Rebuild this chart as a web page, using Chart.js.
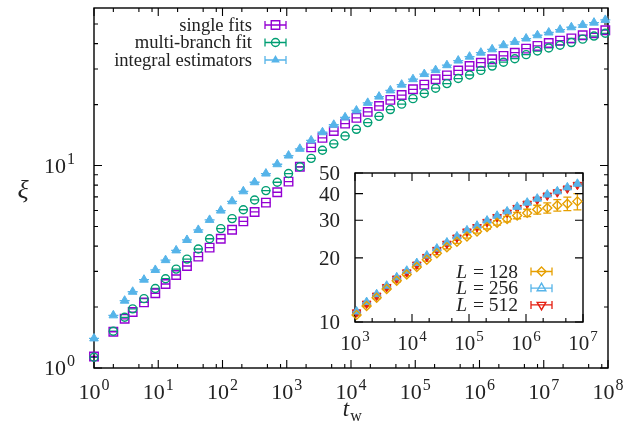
<!DOCTYPE html>
<html>
<head>
<meta charset="utf-8">
<script src="https://cdn.jsdelivr.net/npm/chart.js@4.4.1/dist/chart.umd.min.js"></script>
<style>
  body { margin: 0; background: #fff; }
  #wrap { position: relative; width: 626px; height: 426px; background: #fff; }
  #mainChart { position: absolute; left: 0; top: 0; }
  #insetChart { position: absolute; left: 300px; top: 160px; }
</style>
</head>
<body>
<div id="wrap">
  <canvas id="mainChart" width="626" height="426"></canvas>
  <canvas id="insetChart" width="300" height="200"></canvas>
</div>
<script>
// dados do gráfico principal
const tw = [1, 2, 3, 4, 6, 9, 13, 19, 28, 42, 63, 94, 141, 211, 316, 474, 711, 1066, 1599, 2398,
  3597, 5395, 8092, 12138, 18207, 27310, 40965, 61447, 92170, 138255, 207382, 311073, 466609,
  699913, 1049869, 1574803, 2362204, 3543306, 5314959, 7972438, 11958657, 17937985, 26906977,
  40360465, 60540697, 90811045];
const singleFits = [1.14, 1.51, 1.75, 1.89, 2.11, 2.34, 2.60, 2.88, 3.19, 3.55,
  3.93, 4.35, 4.82, 5.30, 5.90, 6.56, 7.38, 8.33, 9.86, 12.3,
  13.7, 14.8, 16.1, 17.2, 18.4, 19.7, 21.1, 22.3, 23.8, 25.1,
  26.7, 27.9, 29.5, 31.0, 32.2, 33.5, 34.8, 36.1, 37.8, 39.0,
  40.3, 41.4, 42.5, 44.0, 45.0, 46.6];
const multiBranch = [1.13, 1.52, 1.78, 1.96, 2.20, 2.47, 2.76, 3.08, 3.45, 3.87,
  4.35, 4.88, 5.47, 6.05, 6.76, 7.52, 8.27, 9.13, 9.86, 10.85,
  11.9, 12.8, 14.0, 15.1, 16.3, 17.5, 18.9, 20.1, 21.4, 22.7,
  24.1, 25.4, 26.9, 28.0, 29.5, 31.0, 32.4, 33.7, 35.3, 36.8,
  38.1, 39.3, 40.5, 42.1, 43.6, 45.0];
const integralEst = [1.40, 1.82, 2.15, 2.38, 2.73, 3.05, 3.41, 3.81, 4.29, 4.81,
  5.39, 5.99, 6.66, 7.46, 8.27, 9.13, 10.15, 11.2, 12.1, 13.3,
  14.6, 15.9, 17.3, 18.7, 20.4, 21.9, 23.5, 25.1, 26.7, 28.3,
  29.6, 31.3, 33.0, 34.5, 36.1, 37.5, 39.3, 40.8, 42.4, 44.0,
  45.4, 46.9, 48.2, 49.5, 50.8, 52.4];

// dados do inset
const insetTw = [1066, 1599, 2398, 3597, 5395, 8092, 12138, 18207, 27310, 40965, 61447, 92170,
  138255, 207382, 311073, 466609, 699913, 1049869, 1574803, 2362204, 3543306, 5314959, 7972438];
const xiL128 = [10.8, 11.9, 13.0, 14.3, 15.6, 16.7, 18.1, 19.6, 21.0, 22.4, 23.8, 25.2,
  26.6, 27.9, 29.2, 30.4, 31.6, 32.5, 33.7, 34.3, 35.3, 35.9, 36.8];
const errL128 = [0.1, 0.1, 0.15, 0.15, 0.2, 0.2, 0.25, 0.3, 0.3, 0.35, 0.4, 0.45,
  0.5, 0.6, 0.7, 0.9, 1.1, 1.3, 1.6, 1.9, 2.2, 2.6, 3.2];
const xiL256 = [11.2, 12.4, 13.5, 14.8, 16.2, 17.4, 18.9, 20.5, 22.1, 23.6, 25.2, 26.9,
  28.3, 29.9, 31.5, 33.0, 34.7, 36.3, 37.9, 39.6, 41.0, 42.8, 44.5];
const xiL512 = [11.1, 12.2, 13.3, 14.6, 16.0, 17.1, 18.6, 20.2, 21.8, 23.3, 24.9, 26.6,
  27.9, 29.5, 31.1, 32.6, 34.3, 35.9, 37.5, 39.2, 40.6, 42.3, 44.0];

// ticks
const mainXExp = [0, 1, 2, 3, 4, 5, 6, 7, 8];
const mainYExp = [0, 1];
const insetXExp = [3, 4, 5, 6, 7];
const insetYTicks = [10, 20, 30, 40, 50];

const FONT = '"Liberation Serif", "DejaVu Serif", serif';
const C_PURPLE = '#9400D3', C_GREEN = '#009E73', C_BLUE = '#56B4E9';
const C_ORANGE = '#E69F00', C_RED = '#E51E10';

const pts = (xs, ys) => xs.map((x, i) => ({ x: x, y: ys[i] }));

// desenha "10^k"
const drawPow = (ctx, exp, x, y, align, size) => {
  ctx.save();
  ctx.fillStyle = '#222';
  ctx.textBaseline = 'alphabetic';
  ctx.font = size + 'px ' + FONT;
  const wb = ctx.measureText('10').width;
  const sup = Math.round(size * 0.72);
  ctx.font = sup + 'px ' + FONT;
  const we = ctx.measureText(String(exp)).width;
  const total = wb + we + 1;
  let left = x;
  if (align === 'center') left = x - total / 2;
  if (align === 'right') left = x - total;
  const base = y + size * 0.34;
  ctx.font = size + 'px ' + FONT;
  ctx.textAlign = 'left';
  ctx.fillText('10', left, base);
  ctx.font = sup + 'px ' + FONT;
  ctx.fillText(String(exp), left + wb + 1, base - size * 0.42);
  ctx.restore();
};

// marcador para a legenda
const drawMarker = (ctx, style, x, y, r, color, filled) => {
  ctx.save();
  ctx.strokeStyle = color;
  ctx.fillStyle = color;
  ctx.lineWidth = 1.4;
  ctx.beginPath();
  if (style === 'rect') {
    const s = r * Math.SQRT1_2;
    ctx.rect(x - s, y - s, 2 * s, 2 * s);
  } else if (style === 'circle') {
    ctx.arc(x, y, r, 0, Math.PI * 2);
  } else if (style === 'rectRot') {
    ctx.moveTo(x, y - r); ctx.lineTo(x + r, y); ctx.lineTo(x, y + r); ctx.lineTo(x - r, y); ctx.closePath();
  } else if (style === 'triangle' || style === 'triangleDown') {
    const d = style === 'triangle' ? 1 : -1;
    const w = r * Math.sin(Math.PI / 3);
    ctx.moveTo(x, y - d * r); ctx.lineTo(x + w, y + d * r / 2); ctx.lineTo(x - w, y + d * r / 2); ctx.closePath();
  }
  if (filled) ctx.fill(); else ctx.stroke();
  ctx.restore();
};

// barras de erro (y) com caps horizontais
const errorBarPlugin = {
  id: 'errorBars',
  beforeDatasetsDraw(chart) {
    const ctx = chart.ctx;
    const xs = chart.scales.x, ys = chart.scales.y;
    chart.data.datasets.forEach(ds => {
      if (!ds.errCap) return;
      ctx.save();
      ctx.strokeStyle = ds.borderColor;
      ctx.lineWidth = 1.3;
      ds.data.forEach((p, i) => {
        const e = ds.errors ? ds.errors[i] : 0;
        const px = xs.getPixelForValue(p.x);
        const y1 = ys.getPixelForValue(p.y - e);
        const y2 = ys.getPixelForValue(p.y + e);
        ctx.beginPath();
        ctx.moveTo(px, y1); ctx.lineTo(px, y2);
        ctx.moveTo(px - ds.errCap, y1); ctx.lineTo(px + ds.errCap, y1);
        ctx.moveTo(px - ds.errCap, y2); ctx.lineTo(px + ds.errCap, y2);
        ctx.stroke();
      });
      ctx.restore();
    });
  }
};

// moldura, ticks para dentro, rótulos e legenda
const framePlugin = {
  id: 'frame',
  beforeDatasetsDraw(chart, args, opts) {
    const ctx = chart.ctx;
    const a = chart.chartArea;
    const xs = chart.scales.x, ys = chart.scales.y;
    ctx.save();
    ctx.strokeStyle = '#000';
    ctx.lineWidth = 1.4;
    ctx.strokeRect(a.left, a.top, a.right - a.left, a.bottom - a.top);
    ctx.lineWidth = 1.1;
    ctx.beginPath();
    opts.xMajor.forEach(v => {
      const px = xs.getPixelForValue(v);
      ctx.moveTo(px, a.bottom); ctx.lineTo(px, a.bottom - opts.major);
      ctx.moveTo(px, a.top); ctx.lineTo(px, a.top + opts.major);
    });
    opts.xMinor.forEach(v => {
      const px = xs.getPixelForValue(v);
      ctx.moveTo(px, a.bottom); ctx.lineTo(px, a.bottom - opts.minor);
      ctx.moveTo(px, a.top); ctx.lineTo(px, a.top + opts.minor);
    });
    opts.yMajor.forEach(v => {
      const py = ys.getPixelForValue(v);
      ctx.moveTo(a.left, py); ctx.lineTo(a.left + opts.major, py);
      ctx.moveTo(a.right, py); ctx.lineTo(a.right - opts.major, py);
    });
    opts.yMinor.forEach(v => {
      const py = ys.getPixelForValue(v);
      ctx.moveTo(a.left, py); ctx.lineTo(a.left + opts.minor, py);
      ctx.moveTo(a.right, py); ctx.lineTo(a.right - opts.minor, py);
    });
    ctx.stroke();
    ctx.restore();
  },
  afterDraw(chart, args, opts) {
    const ctx = chart.ctx;
    const a = chart.chartArea;
    const xs = chart.scales.x, ys = chart.scales.y;
    opts.xExp.forEach(k => drawPow(ctx, k, xs.getPixelForValue(Math.pow(10, k)), a.bottom + opts.xLabelGap, 'center', opts.tickSize));
    if (opts.yExp) {
      opts.yExp.forEach(k => drawPow(ctx, k, a.left - opts.yLabelGap, ys.getPixelForValue(Math.pow(10, k)), 'right', opts.tickSize));
    }
    if (opts.yPlain) {
      ctx.save();
      ctx.fillStyle = '#222';
      ctx.font = opts.tickSize + 'px ' + FONT;
      ctx.textAlign = 'right';
      ctx.textBaseline = 'alphabetic';
      opts.yPlain.forEach(v => ctx.fillText(String(v), a.left - opts.yLabelGap, ys.getPixelForValue(v) + opts.tickSize * 0.34));
      ctx.restore();
    }
    // legenda
    ctx.save();
    opts.legend.forEach((item, i) => {
      const y = opts.legendY + i * opts.legendStep;
      ctx.fillStyle = '#222';
      ctx.textBaseline = 'alphabetic';
      ctx.textAlign = 'right';
      if (item.italic) {
        ctx.font = opts.legendSize + 'px ' + FONT;
        const rest = item.label;
        const wr = ctx.measureText(rest).width;
        ctx.fillText(rest, opts.legendX, y + opts.legendSize * 0.32);
        ctx.font = 'italic ' + opts.legendSize + 'px ' + FONT;
        ctx.fillText(item.italic, opts.legendX - wr - 1, y + opts.legendSize * 0.32);
      } else {
        ctx.font = opts.legendSize + 'px ' + FONT;
        ctx.fillText(item.label, opts.legendX, y + opts.legendSize * 0.32);
      }
      const x1 = opts.legendX + 13, x2 = x1 + opts.sampleW;
      ctx.strokeStyle = item.color;
      ctx.lineWidth = 1.3;
      ctx.beginPath();
      ctx.moveTo(x1, y); ctx.lineTo(x2, y);
      ctx.moveTo(x1, y - 4); ctx.lineTo(x1, y + 4);
      ctx.moveTo(x2, y - 4); ctx.lineTo(x2, y + 4);
      ctx.stroke();
      drawMarker(ctx, item.style, (x1 + x2) / 2, y, item.r, item.color, item.filled);
    });
    ctx.restore();
    if (opts.titles) {
      ctx.save();
      ctx.fillStyle = '#222';
      ctx.textAlign = 'center';
      ctx.textBaseline = 'alphabetic';
      ctx.font = 'italic 26px ' + FONT;
      ctx.fillText('ξ', 23, 198);
      const cx = (a.left + a.right) / 2;
      ctx.font = 'italic 23px ' + FONT;
      ctx.fillText('t', cx - 5, 416);
      ctx.font = '16px ' + FONT;
      ctx.fillText('w', cx + 5, 421);
      ctx.restore();
    }
  }
};

const logTicks = (decades, mults) => {
  const out = [];
  decades.forEach(d => mults.forEach(m => out.push(m * Math.pow(10, d))));
  return out;
};

const baseOpts = (xmin, xmax, ymin, ymax, pad) => ({
  responsive: false,
  animation: false,
  devicePixelRatio: 1,
  layout: { padding: pad },
  plugins: { legend: { display: false }, tooltip: { enabled: false } },
  scales: {
    x: { type: 'logarithmic', min: xmin, max: xmax, display: false },
    y: { type: 'logarithmic', min: ymin, max: ymax, display: false }
  }
});

const mainOpts = baseOpts(1, 1e8, 1, 60, { left: 94, right: 18, top: 8, bottom: 58 });
mainOpts.plugins.frame = {
  xMajor: mainXExp.map(k => Math.pow(10, k)),
  xMinor: logTicks([0, 1, 2, 3, 4, 5, 6, 7], [2, 5, 8]),
  yMajor: [1, 10],
  yMinor: [2, 3, 4, 5, 6, 7, 8, 9, 20, 30, 40, 50],
  major: 8, minor: 4,
  xExp: mainXExp, yExp: mainYExp, tickSize: 22, xLabelGap: 24, yLabelGap: 19,
  legendX: 252, legendY: 25, legendStep: 17.5, legendSize: 18.6, sampleW: 21,
  legend: [
    { label: 'single fits', color: C_PURPLE, style: 'rect', r: 6, filled: false },
    { label: 'multi-branch fit', color: C_GREEN, style: 'circle', r: 4, filled: false },
    { label: 'integral estimators', color: C_BLUE, style: 'triangle', r: 5, filled: true }
  ],
  titles: true
};

new Chart(document.getElementById('mainChart'), {
  type: 'scatter',
  data: {
    datasets: [
      { label: 'integral estimators', data: pts(tw, integralEst), borderColor: C_BLUE, backgroundColor: C_BLUE,
        pointStyle: 'triangle', pointRadius: 5, borderWidth: 1, errCap: 5, clip: false },
      { label: 'multi-branch fit', data: pts(tw, multiBranch), borderColor: C_GREEN, backgroundColor: 'rgba(0,0,0,0)',
        pointStyle: 'circle', pointRadius: 4, borderWidth: 1.4, errCap: 4.5, clip: false },
      { label: 'single fits', data: pts(tw, singleFits), borderColor: C_PURPLE, backgroundColor: 'rgba(0,0,0,0)',
        pointStyle: 'rect', pointRadius: 6, borderWidth: 1.4, errCap: 4.5, clip: false }
    ]
  },
  options: mainOpts,
  plugins: [errorBarPlugin, framePlugin]
});

const insetOpts = baseOpts(1e3, 1e7, 10, 50, { left: 55, right: 17, top: 13, bottom: 38 });
insetOpts.plugins.frame = {
  xMajor: insetXExp.map(k => Math.pow(10, k)),
  xMinor: logTicks([3, 4, 5, 6], [2, 5]),
  yMajor: insetYTicks,
  yMinor: [],
  major: 8, minor: 4,
  xExp: insetXExp, yPlain: insetYTicks, tickSize: 21, xLabelGap: 21, yLabelGap: 15,
  legendX: 218, legendY: 111.5, legendStep: 16.7, legendSize: 19.5, sampleW: 21,
  legend: [
    { label: ' = 128', italic: 'L', color: C_ORANGE, style: 'rectRot', r: 4.5, filled: false },
    { label: ' = 256', italic: 'L', color: C_BLUE, style: 'triangle', r: 5, filled: false },
    { label: ' = 512', italic: 'L', color: C_RED, style: 'triangleDown', r: 5, filled: false }
  ],
  titles: false
};

new Chart(document.getElementById('insetChart'), {
  type: 'scatter',
  data: {
    datasets: [
      { label: 'L = 128', data: pts(insetTw, xiL128), errors: errL128, borderColor: C_ORANGE, backgroundColor: 'rgba(0,0,0,0)',
        pointStyle: 'rectRot', pointRadius: 4.5, borderWidth: 1.4, errCap: 4, clip: false },
      { label: 'L = 256', data: pts(insetTw, xiL256), borderColor: C_BLUE, backgroundColor: C_BLUE,
        pointStyle: 'triangle', pointRadius: 5, borderWidth: 1, errCap: 4.5, clip: false },
      { label: 'L = 512', data: pts(insetTw, xiL512), borderColor: C_RED, backgroundColor: C_RED,
        pointStyle: 'triangle', pointRotation: 180, pointRadius: 5, borderWidth: 1, errCap: 4.5, clip: false }
    ]
  },
  options: insetOpts,
  plugins: [errorBarPlugin, framePlugin]
});
</script>
</body>
</html>
